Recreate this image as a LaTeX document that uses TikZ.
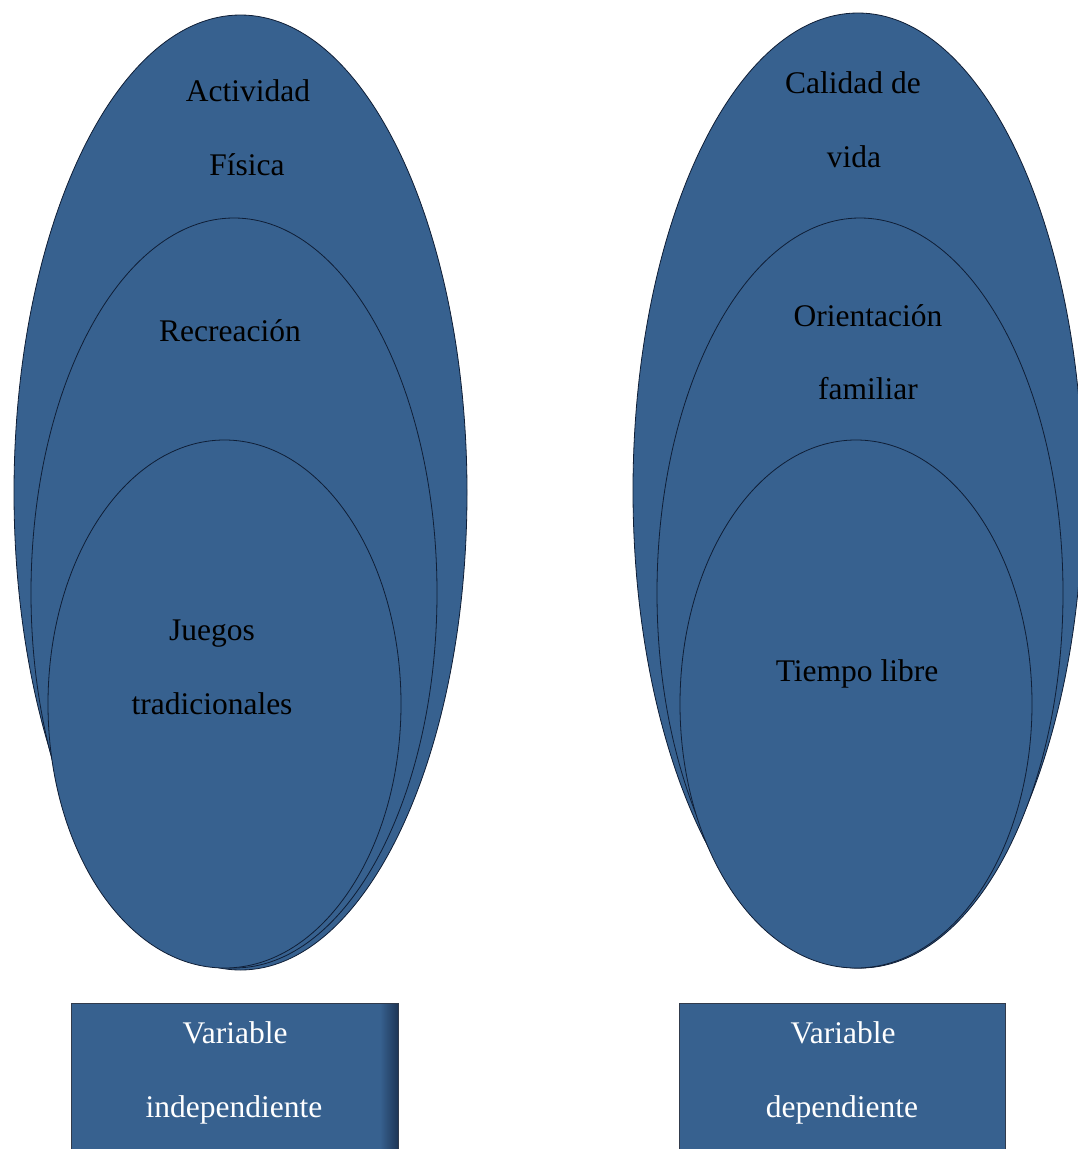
\documentclass[tikz,border=0pt]{standalone}
\usepackage{fontspec}
\setmainfont{Liberation Serif}
\usetikzlibrary{shapes.geometric}
\definecolor{fillblue}{HTML}{37618F}
\definecolor{edgenavy}{HTML}{0F1E36}
\definecolor{shadownavy}{HTML}{1E3657}
\begin{document}
\begin{tikzpicture}[x=1pt,y=-1pt,
  oval/.style={ellipse, draw=edgenavy, line width=0.8pt, fill=fillblue, inner sep=0pt},
  lab/.style={anchor=base, text=black, font=\fontsize{31.5}{36}\selectfont, inner sep=0pt},
  wlab/.style={anchor=base, text=white, font=\fontsize{31.5}{36}\selectfont, inner sep=0pt},
  varbox/.style={draw=edgenavy!70!gray, line width=0.8pt, fill=fillblue}]
\useasboundingbox (0,0) rectangle (1078,1149);
% left ellipses
\node[oval, minimum width=453, minimum height=955] (L1) at (240.5,492.5) {};
\node[oval, minimum width=406, minimum height=750] (L2) at (234,593) {};
\node[oval, minimum width=353, minimum height=528] (L3) at (224.5,704) {};
% right ellipses
\node[oval, minimum width=450, minimum height=955] (R1) at (858,490.5) {};
\node[oval, minimum width=406, minimum height=750] (R2) at (860,593) {};
\node[oval, minimum width=352, minimum height=528] (R3) at (856,704) {};
% labels
\node[lab] (t1) at (248,101) {Actividad};
\node[lab] (t2) at (247,175) {Física};
\node[lab] (t3) at (230,341) {Recreación};
\node[lab] (t4) at (212,640) {Juegos};
\node[lab] (t5) at (212,714) {tradicionales};
\node[lab] (t6) at (853,93) {Calidad de};
\node[lab] (t7) at (854,167) {vida};
\node[lab] (t8) at (868,326) {Orientación};
\node[lab] (t9) at (868,399) {familiar};
\node[lab] (t10) at (857,681) {Tiempo libre};
% boxes
\fill[fillblue] (71,1003) rectangle (398,1160);
\shade[left color=fillblue, right color=shadownavy] (380,1003) rectangle (398,1160);
\node[varbox, fill=none, anchor=north west, minimum width=327, minimum height=157, inner sep=0pt] (BL) at (71,1003) {};
\node[varbox, anchor=north west, minimum width=326, minimum height=157, inner sep=0pt] (BR) at (679,1003) {};
\node[wlab] (b1) at (235,1043) {Variable};
\node[wlab] (b2) at (234,1117) {independiente};
\node[wlab] (b3) at (843,1043) {Variable};
\node[wlab] (b4) at (842,1117) {dependiente};
\end{tikzpicture}
\end{document}
